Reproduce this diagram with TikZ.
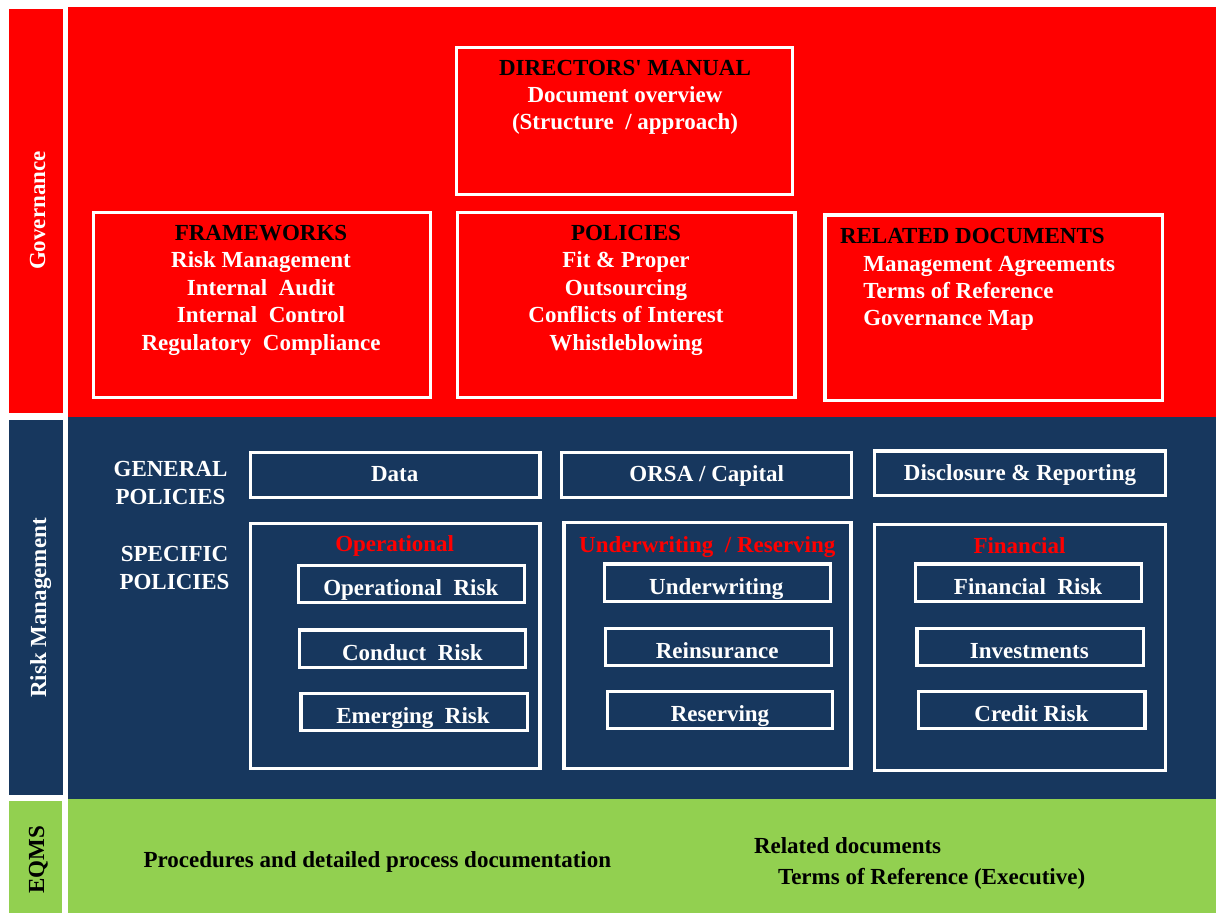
\documentclass[tikz,border=0pt]{standalone}
\usepackage{fontspec}
\setmainfont{Liberation Serif}
\usetikzlibrary{fit}
\definecolor{govred}{RGB}{255,0,0}
\definecolor{rmnavy}{RGB}{23,55,94}
\definecolor{eqgreen}{RGB}{146,208,80}
\begin{document}
\begin{tikzpicture}[x=1pt,y=-1pt,
  wbox/.style={draw=white, line width=3.2pt, inner sep=0pt, outer sep=0pt},
  lbl/.style={font=\fontsize{23}{27}\selectfont\bfseries, inner sep=0pt, outer sep=0pt, anchor=base},
  wt/.style={lbl, text=white},
  bt/.style={lbl, text=black},
  rt/.style={lbl, text=govred},
  wl/.style={wt, anchor=base west},
  bl/.style={bt, anchor=base west},
  side/.style={lbl, rotate=90}]
\useasboundingbox (0,0) rectangle (1216,913);
\fill[white] (0,0) rectangle (1216,913);
% bands
\fill[govred] (9,9.3) rectangle (63.3,412.5);
\fill[govred] (67.7,7) rectangle (1216,416.7);
\fill[rmnavy] (9,420) rectangle (63,795);
\fill[rmnavy] (67.5,416.7) rectangle (1216,799);
\fill[eqgreen] (9,801) rectangle (62,913);
\fill[eqgreen] (68,799) rectangle (1216,913);
% side labels
\node[side, text=white] (gov) at (45,210.5) {Governance};
\node[side, text=white] (rm) at (46,608) {Risk Management};
\node[side, text=black] (eq) at (44,859.5) {EQMS};
% governance boxes
\node[wbox, fit={(456.6,47.6) (792.4,194.4)}] (dm) {};
\node[wbox, fit={(93.3,212.3) (430.7,397.4)}] (fw) {};
\node[wbox, fit={(457.6,212.3) (795,397.4)}] (po) {};
\node[wbox, fit={(824.9,214.9) (1162.4,400.4)}] (rd) {};
\node[bt] (dmt) at (625,75.7) {DIRECTORS\textquotesingle\ MANUAL};
\node[wt] (dm1) at (625,102.3) {Document overview};
\node[wt] (dm2) at (625,129) {(Structure\ \ / approach)};
\node[bt] (fwt) at (261,240.7) {FRAMEWORKS};
\node[wt] (fw1) at (261,267.7) {Risk Management};
\node[wt] (fw2) at (261,295) {Internal\ \ Audit};
\node[wt] (fw3) at (261,322.3) {Internal\ \ Control};
\node[wt] (fw4) at (261,350) {Regulatory\ \ Compliance};
\node[bt] (pot) at (626,240.7) {POLICIES};
\node[wt] (po1) at (626,267.7) {Fit \& Proper};
\node[wt] (po2) at (626,295) {Outsourcing};
\node[wt] (po3) at (626,322.3) {Conflicts of Interest};
\node[wt] (po4) at (626,350) {Whistleblowing};
\node[bl] (rdt) at (840,243.3) {RELATED DOCUMENTS};
\node[wl] (rd1) at (863.3,271) {Management Agreements};
\node[wl] (rd2) at (863.3,298.3) {Terms of Reference};
\node[wl] (rd3) at (863.3,325) {Governance Map};
% risk management
\node[wt] (gp1) at (170.5,476) {GENERAL};
\node[wt] (gp2) at (170.5,504) {POLICIES};
\node[wt] (sp1) at (174.5,561.7) {SPECIFIC};
\node[wt] (sp2) at (174.5,589) {POLICIES};
\node[wbox, fit={(250.4,452.6) (539.9,497.1)}] (data) {};
\node[wbox, fit={(561.4,452.6) (851.8,497.1)}] (orsa) {};
\node[wbox, fit={(874.8,450.9) (1165.6,495.7)}] (disc) {};
\node[wt] (datat) at (394.7,481.7) {Data};
\node[wt] (orsat) at (706.8,481.7) {ORSA / Capital};
\node[wt] (disct) at (1020,480) {Disclosure \& Reporting};
\node[wbox, fit={(250.4,523.3) (539.9,768.4)}] (gop) {};
\node[wbox, fit={(564,522.6) (850.9,768.4)}] (guw) {};
\node[wbox, fit={(874.8,524.3) (1165.6,770.1)}] (gfi) {};
\node[rt] (gopt) at (394.7,551.7) {Operational};
\node[rt] (guwt) at (707.3,552.3) {Underwriting\ \ / Reserving};
\node[rt] (gfit) at (1019.5,553.3) {Financial};
\node[wbox, fit={(298.2,565.6) (524.6,602.7)}] (opr) {};
\node[wbox, fit={(299.3,629.9) (525.8,667.4)}] (con) {};
\node[wbox, fit={(300.9,693.3) (527.3,730.4)}] (eme) {};
\node[wbox, fit={(604.1,563.9) (830.2,601.4)}] (uw) {};
\node[wbox, fit={(605.4,628.3) (831.4,665.7)}] (rei) {};
\node[wbox, fit={(607.1,691.6) (832.8,728.7)}] (res) {};
\node[wbox, fit={(915.7,563.9) (1141.8,601.4)}] (fr) {};
\node[wbox, fit={(917,628.3) (1143.6,665.7)}] (inv) {};
\node[wbox, fit={(918.8,691.6) (1144.9,728.7)}] (cr) {};
\node[wt] (oprt) at (410.8,595) {Operational\ \ Risk};
\node[wt] (cont) at (412.3,660) {Conduct\ \ Risk};
\node[wt] (emet) at (413,723.3) {Emerging\ \ Risk};
\node[wt] (uwt) at (716.3,594) {Underwriting};
\node[wt] (reit) at (717.2,658.3) {Reinsurance};
\node[wt] (rest) at (720,721.7) {Reserving};
\node[wt] (frt) at (1028.1,594) {Financial\ \ Risk};
\node[wt] (invt) at (1029.4,658.3) {Investments};
\node[wt] (crt) at (1031.4,721.7) {Credit Risk};
% EQMS
\node[bl] (proc) at (143.5,867) {Procedures and detailed process documentation};
\node[bl] (reld) at (754,853) {Related documents};
\node[bl] (tor) at (778,884) {Terms of Reference (Executive)};
\end{tikzpicture}
\end{document}
